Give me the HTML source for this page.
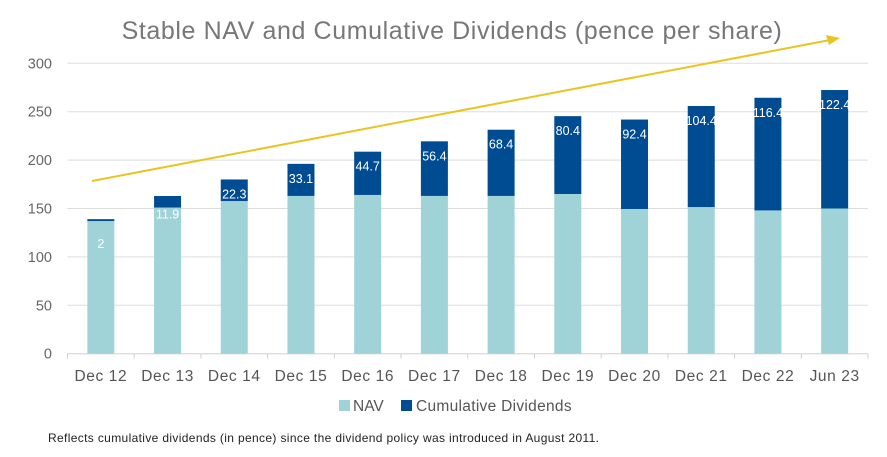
<!DOCTYPE html>
<html><head><meta charset="utf-8"><style>
body{margin:0;background:#fff;font-family:"Liberation Sans",sans-serif;}
svg text{font-family:"Liberation Sans",sans-serif;}
</style></head><body>
<svg width="887" height="452" id="chart">
<text x="452" y="39" text-anchor="middle" font-size="25" letter-spacing="0.6" fill="#777">Stable NAV and Cumulative Dividends (pence per share)</text>
<g id="grid"></g><g id="bars"></g>
<line x1="92" y1="181" x2="830" y2="40" stroke="#e8c520" stroke-width="2"/>
<polygon points="840,38 826,35 829,45" fill="#e8c520"/>
<g>
<rect x="339" y="400" width="11" height="11" fill="#a0d3d7"/>
<text x="353" y="411" font-size="15.5" fill="#555">NAV</text>
<rect x="401" y="400" width="11" height="11" fill="#004c93"/>
<text x="416" y="411" font-size="15.5" letter-spacing="0.3" fill="#555">Cumulative Dividends</text>
</g>
<text x="48" y="442" font-size="12" letter-spacing="0.35" fill="#222">Reflects cumulative dividends (in pence) since the dividend policy was introduced in August 2011.</text>
</svg>
<script>
const categories=["Dec 12","Dec 13","Dec 14","Dec 15","Dec 16","Dec 17","Dec 18","Dec 19","Dec 20","Dec 21","Dec 22","Jun 23"];
const navValues=[137,151,157.7,163,164,163,163,165,149.5,151.5,148,150];
const dividendValues=[2,11.9,22.3,33.1,44.7,56.4,68.4,80.4,92.4,104.4,116.4,122.4];
const dividendLabels=["2","11.9","22.3","33.1","44.7","56.4","68.4","80.4","92.4","104.4","116.4","122.4"];
const yTicks=[0,50,100,150,200,250,300];
const L=67.5,R=868,Y0=353.7,Y300=63.3;
const y=v=>Y0-(v/300)*(Y0-Y300);
const bw=(R-L)/categories.length;
const xc=i=>L+bw*(i+0.5);
const NS="http://www.w3.org/2000/svg";
const g=document.getElementById('grid'),b=document.getElementById('bars');
function mk(t,a,p){const e=document.createElementNS(NS,t);for(const k in a)e.setAttribute(k,a[k]);p.appendChild(e);return e;}
yTicks.forEach(t=>{
 if(t>0){const l=mk('line',{x1:L,x2:R,y1:y(t),y2:y(t),stroke:'#ddd','stroke-width':1},g);
 
 }
 const tx=mk('text',{x:52,y:y(t)+5,'text-anchor':'end','font-size':14.5,fill:'#666'},g);tx.textContent=t;
 
 
});
const ax=mk('line',{x1:L,x2:R,y1:Y0,y2:Y0,stroke:'#d0d0d0'},g);


for(let i=0;i<=categories.length;i++){const t=mk('line',{x1:L+bw*i,x2:L+bw*i,y1:Y0,y2:Y0+5,stroke:'#d0d0d0'},g);
 
 }
categories.forEach((c,i)=>{
 const w=27,x=xc(i)-w/2,n=navValues[i],d=dividendValues[i];
 const r1=mk('rect',{x:x,y:y(n),width:w,height:Y0-y(n),fill:'#a0d3d7'},b);
 
 
 const r2=mk('rect',{x:x,y:y(n+d),width:w,height:y(n)-y(n+d),fill:'#004c93'},b);
 
 
 const ly=i==0?y(n)+27:Math.min(y(n+d)+19,y(n)+10);
 const lt=mk('text',{x:xc(i),y:i==1?y(n)+11:ly,'text-anchor':'middle','font-size':12.5,fill:'#fff'},b);lt.textContent=dividendLabels[i];
 
 
 const xl=mk('text',{x:xc(i),y:381,'text-anchor':'middle','font-size':15.5,'letter-spacing':0.6,fill:'#555'},b);xl.textContent=c;
 
 
});
</script>
</body></html>
